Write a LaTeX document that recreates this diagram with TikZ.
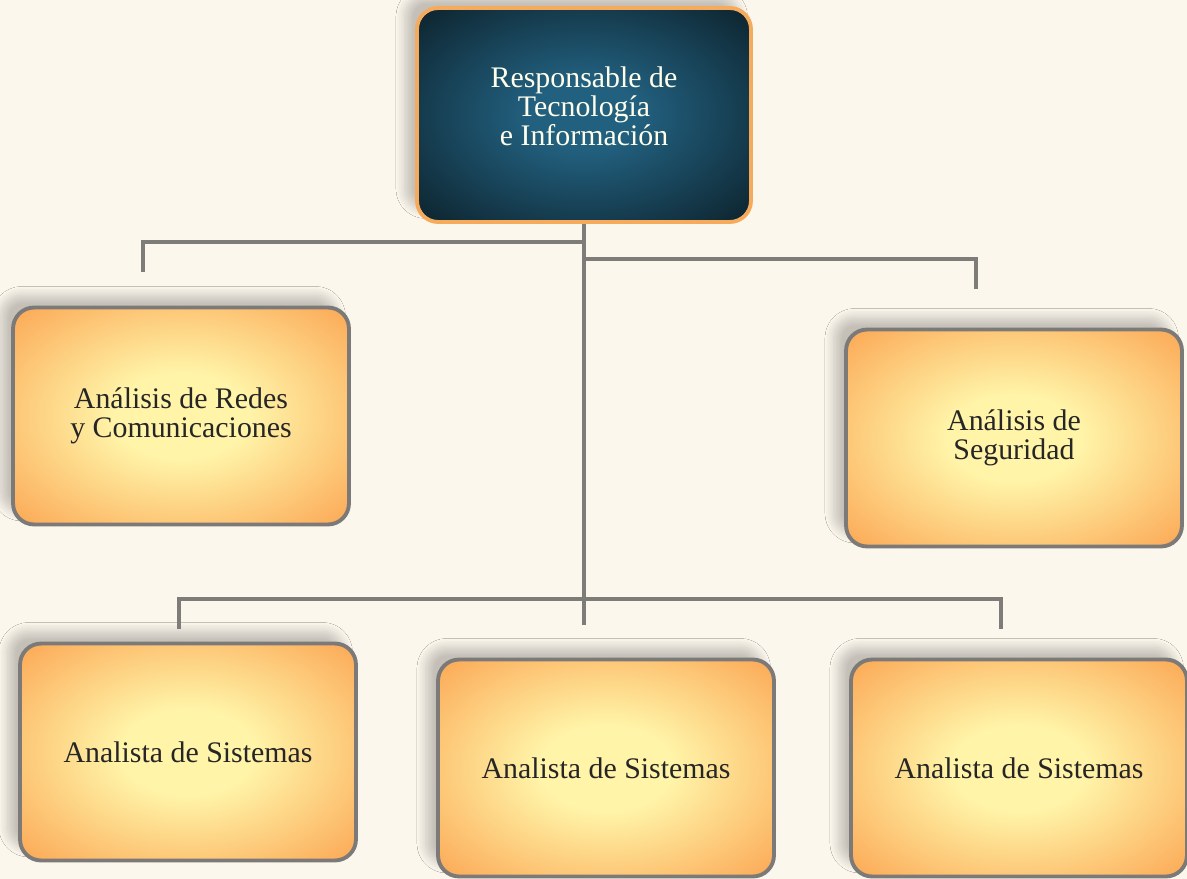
\documentclass[tikz,border=0pt]{standalone}
\usepackage{fontspec}
\setmainfont{Liberation Serif}
\usepackage{xcolor}
\usepackage{tikz}
\usetikzlibrary{positioning,shadows.blur}

\definecolor{fondo}{HTML}{FCF7ED}
\definecolor{cajaIn}{HTML}{FFF4A8}
\definecolor{cajaOut}{HTML}{FBA653}
\definecolor{jefeIn}{HTML}{22607F}
\definecolor{jefeOut}{HTML}{0E2631}
\definecolor{borde}{HTML}{7B7A78}
\definecolor{bordeJefe}{HTML}{F6AA5B}
\definecolor{linea}{HTML}{7E7C79}

\pgfdeclareradialshading{caja}{\pgfpoint{0bp}{0bp}}{%
  color(0bp)=(cajaIn); color(10bp)=(cajaIn); color(36bp)=(cajaOut); color(50bp)=(cajaOut)}
\pgfdeclareradialshading{jefe}{\pgfpoint{0bp}{0bp}}{%
  color(0bp)=(jefeIn); color(8bp)=(jefeIn); color(34bp)=(jefeOut); color(50bp)=(jefeOut)}

\tikzset{
  puesto/.style={rectangle, rounded corners=12pt, shading=caja, draw=borde, line width=2.2pt,
    minimum width=6.72cm, minimum height=4.34cm, align=center,
    font=\fontsize{17}{16.4}\selectfont, text=black!85,
    blur shadow={shadow xshift=-7pt, shadow yshift=7pt, shadow opacity=22,
      shadow blur radius=5pt, shadow blur steps=10}},
  jefebox/.style={puesto, shading=jefe, draw=bordeJefe, text=white!92!yellow,
    minimum width=6.68cm, minimum height=4.28cm, text depth=10pt},
  enlace/.style={draw=linea, line width=2.6pt}
}

\begin{document}
\begin{tikzpicture}[x=0.02cm, y=-0.02cm]
  % fondo
  \fill[fondo] (0,0) rectangle (1187,879);
  \useasboundingbox (0,0) rectangle (1187,879);

  % Jefatura
  \node[jefebox] (jefe) at (584,115) {Responsable de\\Tecnología\\e Información};

  % Segundo nivel
  \node[puesto] (redes) at (181,416) {Análisis de Redes\\y Comunicaciones};
  \node[puesto] (seguridad) at (1014,438) {Análisis de\\Seguridad};

  % Analistas
  \node[puesto] (sis1) at (188,752) {Analista de Sistemas};
  \node[puesto] (sis2) at (606,768) {Analista de Sistemas};
  \node[puesto] (sis3) at (1019,768) {Analista de Sistemas};

  % puntos de las lineas
  \coordinate (c-izq) at (jefe.south |- 0,242);
  \coordinate (c-der) at (jefe.south |- 0,259);
  \coordinate (c-bar) at (jefe.south |- 0,599);
  \coordinate (c-bajo) at (jefe.south |- 0,625);
  \coordinate (p-redes) at (143,272);
  \coordinate (p-seg) at (976,289);
  \coordinate (p-sis1) at (179,629);
  \coordinate (p-sis3) at (1001,629);

  % lineas
  \draw[enlace] (jefe.south) -- (c-bajo);
  \draw[enlace] (c-izq) -| (p-redes);
  \draw[enlace] (c-der) -| (p-seg);
  \draw[enlace] (p-sis1) |- (c-bar) -| (p-sis3);
\end{tikzpicture}
\end{document}
